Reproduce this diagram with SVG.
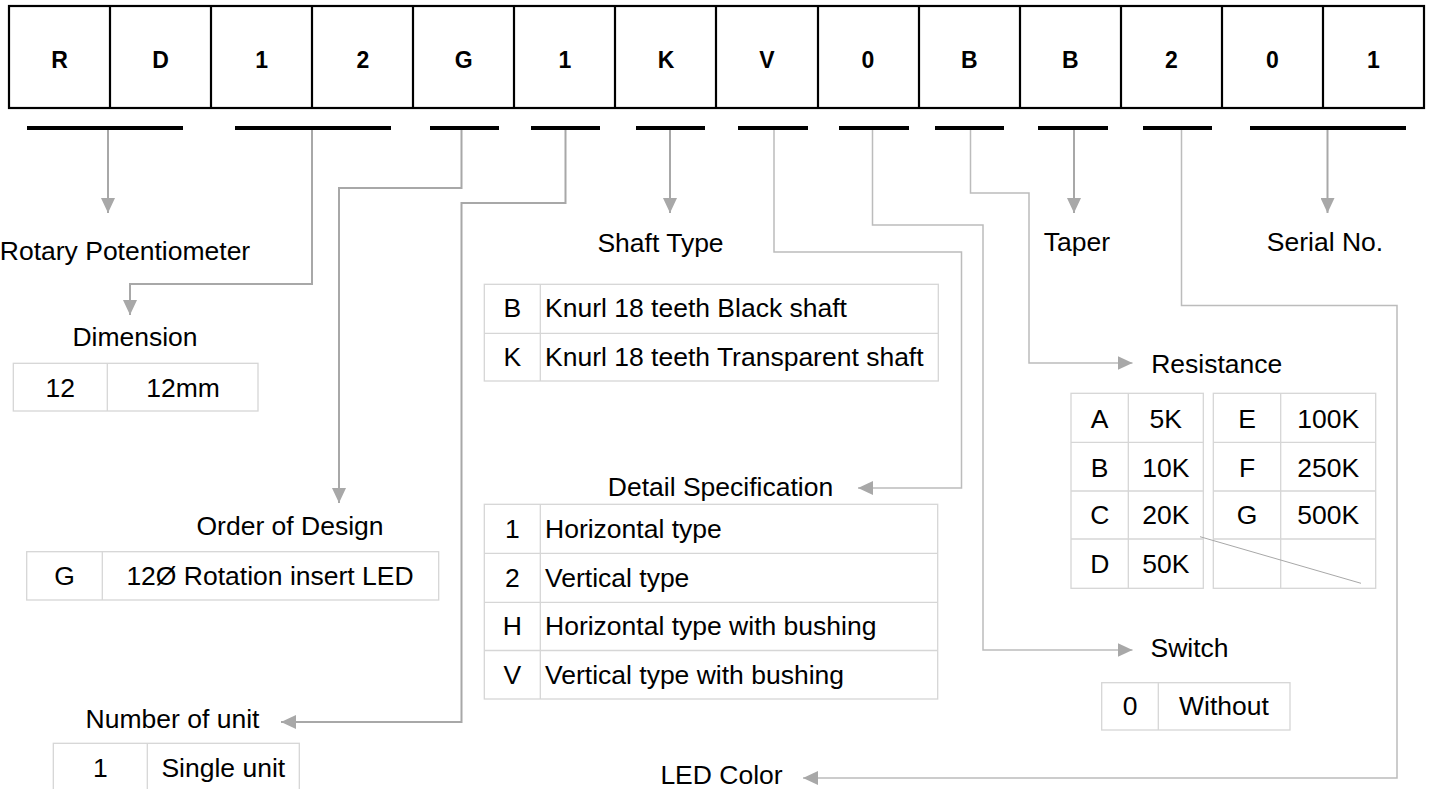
<svg xmlns="http://www.w3.org/2000/svg" width="1431" height="789" viewBox="0 0 1431 789">
<defs>
<style>
.t{font-family:"Liberation Sans",Arial,sans-serif;font-size:26.5px;fill:#000}
.m{text-anchor:middle}
.b{font-family:"Liberation Sans",Arial,sans-serif;font-size:23px;font-weight:bold;text-anchor:middle;fill:#000}
.cell{fill:none;stroke:#000;stroke-width:2.2}
.bar{stroke:#000;stroke-width:4}
.tb{fill:none;stroke:#d6d6d6;stroke-width:1.3}
.c{fill:none;stroke:#a8a8a8;stroke-width:2}
.cl{fill:none;stroke:#bcbcbc;stroke-width:1.5}
</style>
<marker id="ah" markerUnits="userSpaceOnUse" markerWidth="15" markerHeight="14" refX="15" refY="7" orient="auto">
<path d="M0,0 L15,7 L0,14 z" fill="#a8a8a8"/>
</marker>
</defs>
<rect width="1431" height="789" fill="#fff"/>

<g id="connectors">
<path class="c" d="M108,128 V213" marker-end="url(#ah)"/>
<path class="c" d="M312,128 V284 H130 V315" marker-end="url(#ah)"/>
<path class="c" d="M461.5,128 V188 H339 V503" marker-end="url(#ah)"/>
<path class="c" d="M565.5,128 V203 H461.5 V722 H281" marker-end="url(#ah)"/>
<path class="c" d="M670,128 V213" marker-end="url(#ah)"/>
<path class="cl" d="M774,128 V252 H961.5 V488 H858" marker-end="url(#ah)"/>
<path class="cl" d="M872.5,128 V225 H983 V650 H1132.5" marker-end="url(#ah)"/>
<path class="cl" d="M970.5,128 V193 H1029 V363 H1132.5" marker-end="url(#ah)"/>
<path class="c" d="M1074,128 V213" marker-end="url(#ah)"/>
<path class="cl" d="M1181.5,128 V305.5 H1397 V778 H803" marker-end="url(#ah)"/>
<path class="c" d="M1327.5,128 V213" marker-end="url(#ah)"/>
</g>

<g id="code">
<rect class="cell" x="9" y="6" width="1415" height="102"/>
<path class="cell" d="M110,6V108 M211,6V108 M312,6V108 M413,6V108 M514,6V108 M615,6V108 M716,6V108 M818,6V108 M919,6V108 M1020,6V108 M1121,6V108 M1222,6V108 M1323,6V108"/>
<text class="b" x="59.5" y="68">R</text>
<text class="b" x="160.6" y="68">D</text>
<text class="b" x="261.7" y="68">1</text>
<text class="b" x="362.8" y="68">2</text>
<text class="b" x="463.8" y="68">G</text>
<text class="b" x="564.9" y="68">1</text>
<text class="b" x="666" y="68">K</text>
<text class="b" x="767" y="68">V</text>
<text class="b" x="868" y="68">0</text>
<text class="b" x="969.2" y="68">B</text>
<text class="b" x="1070.3" y="68">B</text>
<text class="b" x="1171.3" y="68">2</text>
<text class="b" x="1272.4" y="68">0</text>
<text class="b" x="1373.5" y="68">1</text>
</g>

<g id="bars">
<path class="bar" d="M27,128H183 M235,128H391 M430,128H499 M531,128H600 M636,128H705 M738,128H808 M839,128H909 M935,128H1004 M1038,128H1108 M1143,128H1212 M1250,128H1406"/>
</g>

<g id="rotary">
<text class="t m" x="125" y="260">Rotary Potentiometer</text>
</g>

<g id="dimension">
<text class="t m" x="135" y="346">Dimension</text>
<rect class="tb" x="13.3" y="363.3" width="244.7" height="47.7"/>
<path class="tb" d="M107.3,363.3V411"/>
<text class="t m" x="60.3" y="396.5">12</text>
<text class="t m" x="183" y="396.5">12mm</text>
</g>

<g id="order">
<text class="t m" x="290" y="535">Order of Design</text>
<rect class="tb" x="26.7" y="551.7" width="412" height="48.3"/>
<path class="tb" d="M102.3,551.7V600"/>
<text class="t m" x="64.5" y="585">G</text>
<text class="t m" x="270" y="585">12Ø Rotation insert LED</text>
</g>

<g id="unit">
<text class="t m" x="172.5" y="728">Number of unit</text>
<rect class="tb" x="53.3" y="743.3" width="246" height="52"/>
<path class="tb" d="M147.3,743.3V795"/>
<text class="t m" x="100.3" y="777">1</text>
<text class="t m" x="223.3" y="777">Single unit</text>
</g>

<g id="shaft">
<text class="t m" x="660.5" y="251.7">Shaft Type</text>
<rect class="tb" x="484.3" y="284.3" width="454" height="96.7"/>
<path class="tb" d="M484.3,333.3H938.3 M540.3,284.3V381"/>
<text class="t m" x="512.3" y="317.3">B</text>
<text class="t" x="545" y="317.3">Knurl 18 teeth Black shaft</text>
<text class="t m" x="512.3" y="365.7">K</text>
<text class="t" x="545" y="365.7">Knurl 18 teeth Transparent shaft</text>
</g>

<g id="detail">
<text class="t m" x="720.5" y="495.7">Detail Specification</text>
<rect class="tb" x="484.3" y="504.3" width="453.4" height="194.7"/>
<path class="tb" d="M484.3,553.3H937.7 M484.3,602.3H937.7 M484.3,650.5H937.7 M540.3,504.3V699"/>
<text class="t m" x="512.3" y="538.3">1</text>
<text class="t" x="545" y="538.3">Horizontal type</text>
<text class="t m" x="512.3" y="586.7">2</text>
<text class="t" x="545" y="586.7">Vertical type</text>
<text class="t m" x="512.3" y="635">H</text>
<text class="t" x="545" y="635">Horizontal type with bushing</text>
<text class="t m" x="512.3" y="684.3">V</text>
<text class="t" x="545" y="684.3">Vertical type with bushing</text>
</g>

<g id="taper">
<text class="t m" x="1077" y="251">Taper</text>
</g>

<g id="serial">
<text class="t m" x="1325" y="251">Serial No.</text>
</g>

<g id="resistance">
<text class="t m" x="1216.7" y="373.3">Resistance</text>
<rect class="tb" x="1071" y="393.3" width="132.3" height="195"/>
<rect class="tb" x="1213.3" y="393.3" width="162.4" height="195"/>
<path class="tb" d="M1071,442.3H1203.3 M1071,491H1203.3 M1071,539H1203.3 M1213.3,442.3H1375.7 M1213.3,491H1375.7 M1213.3,539H1375.7 M1128.3,393.3V588.3 M1280.7,393.3V588.3"/>
<path d="M1200,536.7 L1361,583.3" stroke="#a8a8a8" stroke-width="1" fill="none"/>
<text class="t m" x="1099.7" y="427.5">A</text>
<text class="t m" x="1165.8" y="427.5">5K</text>
<text class="t m" x="1247" y="427.5">E</text>
<text class="t m" x="1328.2" y="427.5">100K</text>
<text class="t m" x="1099.7" y="476.7">B</text>
<text class="t m" x="1165.8" y="476.7">10K</text>
<text class="t m" x="1247" y="476.7">F</text>
<text class="t m" x="1328.2" y="476.7">250K</text>
<text class="t m" x="1099.7" y="524.3">C</text>
<text class="t m" x="1165.8" y="524.3">20K</text>
<text class="t m" x="1247" y="524.3">G</text>
<text class="t m" x="1328.2" y="524.3">500K</text>
<text class="t m" x="1099.7" y="573.3">D</text>
<text class="t m" x="1165.8" y="573.3">50K</text>
</g>

<g id="switch">
<text class="t m" x="1189.5" y="657.3">Switch</text>
<rect class="tb" x="1101.7" y="682.7" width="188.3" height="47.3"/>
<path class="tb" d="M1158.3,682.7V730"/>
<text class="t m" x="1130" y="715">0</text>
<text class="t m" x="1224" y="715">Without</text>
</g>

<g id="led">
<text class="t m" x="721.5" y="784">LED Color</text>
</g>
</svg>
